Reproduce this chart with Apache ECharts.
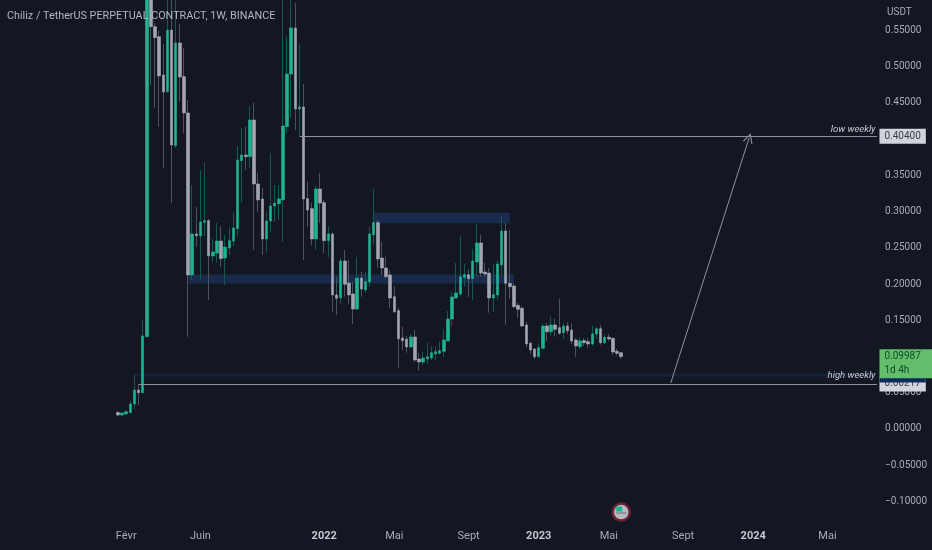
<!DOCTYPE html>
<html><head><meta charset="utf-8">
<style>html,body{margin:0;padding:0;background:#131722}#c{width:932px;height:550px}</style>
<script src="https://cdn.jsdelivr.net/npm/echarts@6/dist/echarts.min.js"></script>
</head><body><div id="c"></div>
<script>
const chartTitle='Chiliz / TetherUS PERPETUAL CONTRACT, 1W, BINANCE';
const firstWeek=Date.UTC(2020,6,6), weekCount=213, firstCandle=28;
const opens=[.0228,.0193,.0207,.0225,.0345,.0538,.0501,.1274,.72,.5553,.5415,.4886,.4656,.5507,.3910,.5328,.4863,.4362,.2126,.2692,.2664,.2853,.2875,.2388,.2429,.2595,.2360,.2498,.2595,.2765,.3703,.3782,.3759,.4265,.3382,.3175,.2623,.2871,.3078,.3110,.3161,.4173,.4900,.5535,.4417,.4445,.3179,.3041,.2623,.3313,.3124,.2599,.2692,.1850,.1812,.2319,.2015,.1863,.1656,.2084,.1919,.2029,.2678,.2848,.2360,.2222,.2126,.1826,.1633,.1256,.1242,.1132,.1270,.0966,.0925,.0966,.0980,.1035,.1045,.1072,.1215,.1518,.1808,.1863,.2094,.2130,.2075,.2305,.2567,.2167,.2153,.1808,.1850,.2264,.2733,.2011,.1974,.1707,.1666,.1436,.1183,.1104,.0998,.1114,.1422,.1343,.1436,.1398,.1329,.1422,.1366,.1228,.1136,.1219,.1205,.1173,.1311,.1384,.1191,.1266,.1252,.1072,.1053];
const closes=[.0193,.0221,.0239,.0345,.0538,.0501,.1284,.72,.5553,.5401,.4873,.4652,.5507,.3920,.5328,.4859,.4362,.2126,.2692,.2668,.2857,.2875,.2388,.2443,.2595,.2351,.2512,.2599,.2774,.3713,.3782,.3759,.4265,.3382,.3161,.2623,.2871,.3078,.3119,.3175,.4182,.4900,.5535,.4417,.4445,.3175,.3023,.2623,.3313,.3119,.2599,.2692,.1850,.1804,.2319,.1997,.1850,.1656,.2084,.1932,.2033,.2692,.2848,.2347,.2222,.2102,.1808,.1619,.1246,.1219,.1132,.1270,.0952,.0925,.0980,.0998,.1053,.1067,.1081,.1228,.1518,.1822,.1877,.2102,.2130,.2075,.2319,.2567,.2153,.2139,.1808,.1854,.2277,.2733,.2011,.1964,.1688,.1652,.1422,.1173,.1090,.0998,.1122,.1422,.1343,.1436,.1376,.1321,.1422,.1357,.1215,.1146,.1215,.1191,.1173,.1311,.1384,.1191,.1266,.1242,.1063,.1045,.09987];
const lows=[.0173,.0179,.0200,.0221,.0276,.0331,.0497,.1270,.4748,.4431,.4173,.3603,.4638,.3119,.3879,.4514,.4086,.1274,.2057,.2516,.2057,.2664,.1781,.2305,.2295,.2240,.1988,.2402,.2526,.2654,.3124,.3575,.3603,.2471,.2999,.2402,.2433,.2723,.2861,.2885,.2585,.4086,.4297,.4127,.4035,.2333,.2792,.2540,.2471,.2843,.2429,.2374,.1619,.1574,.1725,.1826,.1725,.1449,.1643,.1826,.1877,.1960,.2540,.2222,.2126,.2084,.1670,.1601,.0846,.1090,.1053,.1118,.0929,.0805,.0883,.0897,.0952,.0943,.1021,.0994,.1412,.1412,.1794,.1826,.1964,.1818,.1781,.2102,.2102,.2098,.1605,.1619,.1790,.2126,.1440,.1794,.1670,.1532,.1408,.1128,.1035,.0966,.0990,.1100,.1215,.1288,.1274,.1297,.1242,.1311,.1173,.0998,.1104,.1146,.1114,.1150,.1252,.1164,.1173,.1219,.1021,.1021,.0970];
const highs=[.0248,.0235,.0262,.0386,.0745,.0621,.1505,.89,.78,.5600,.5494,.5314,.62,.62,.62,.5590,.5259,.4541,.3368,.3064,.3575,.3676,.2899,.2623,.2843,.2802,.2678,.2788,.2995,.3906,.4155,.4169,.4458,.4504,.3538,.3327,.2981,.3810,.3368,.3368,.60,.5425,.60,.5880,.5314,.4762,.3413,.3119,.3354,.3534,.3161,.2802,.2710,.2098,.2360,.2471,.2333,.2033,.2374,.2171,.2171,.2792,.3313,.2885,.2585,.2378,.2195,.1974,.1670,.1408,.1284,.1311,.1366,.1049,.1067,.1191,.1146,.1136,.1205,.1380,.1629,.1895,.2291,.2664,.2277,.2208,.2485,.2830,.2678,.2291,.2222,.2277,.2333,.2940,.2843,.2747,.2015,.1743,.1698,.1481,.1205,.1118,.1183,.1449,.1463,.1550,.1518,.1794,.1463,.1473,.1459,.1252,.1266,.1256,.1256,.1426,.1412,.1436,.1311,.1311,.1260,.1108,.1060];
const yTicks=[.55,.5,.45,.4,.35,.3,.25,.2,.15,.1,.05,0,-.05,-.1];
const xTickDates=['2021-02-01','2021-06-07','2022-01-03','2022-05-02','2022-09-05','2023-01-02','2023-05-01','2023-09-04','2024-01-01','2024-05-06'];
const xTickLabels=['Févr','Juin','2022','Mai','Sept','2023','Mai','Sept','2024','Mai'];
const zones=[
  {from:'2022-03-28',to:'2022-11-14',top:.2985,bottom:.2839,color:'#1a2a4c'},
  {from:'2021-05-17',to:'2022-11-21',top:.2133,bottom:.2008,color:'#1a2a4c'},
  {from:'2021-02-15',to:'2024-07-22',top:.0769,bottom:.0722,color:'#131f3c'}
];
const lowWeekly=.404, highWeekly=.06217, zoneTag=.07455, lastClose=.09987;
const lowStart='2021-11-22', highStart='2021-02-22';
const arrowFrom={date:'2023-08-14',value:.0635}, arrowTo={date:'2023-12-25',value:.4017};

const categories=[];
for(let i=0;i<weekCount;i++)categories.push(new Date(firstWeek+i*7*864e5).toISOString().slice(0,10));
const lastCat=categories[weekCount-1];
const pad=a=>categories.map((_,i)=>(i>=firstCandle&&i<firstCandle+a.length)?a[i-firstCandle]:'-');
const wickData=pad(opens.map((o,i)=>[o,closes[i],lows[i],highs[i]]));
const bodyData=pad(opens.map((o,i)=>[o,closes[i],Math.min(o,closes[i]),Math.max(o,closes[i])]));
const FONT='Roboto, "Open Sans", sans-serif';
const TXT='#a8abb6';
const fmtY=v=>(v<0?'\u2212':'')+Math.abs(v).toFixed(5);

function tag(value,text,bg,fg,extra){
  return {coord:[lastCat,value],symbol:'rect',symbolSize:1,itemStyle:{color:'transparent'},
    label:Object.assign({show:true,position:'right',distance:2,formatter:text,backgroundColor:bg,color:fg,
      fontFamily:FONT,fontSize:10,padding:[1,5,1,5],lineHeight:13},extra||{})};
}
function note(value,text,offY){
  return {coord:[lastCat,value],symbol:'rect',symbolSize:1,itemStyle:{color:'transparent'},
    label:{show:true,position:'left',distance:0,offset:[-1,offY],formatter:text,color:'#c9cbd2',
      fontFamily:FONT,fontSize:9.5,fontStyle:'italic'}};
}
const arrowPath='path://M0 10L5 0L10 10L9 10.6L5 2.6L1 10.6Z';
const option={
  backgroundColor:'#131722',animation:false,
  title:[
    {text:chartTitle,left:2,top:3,textStyle:{color:'#b2b5be',fontFamily:FONT,fontSize:10.8,fontWeight:'normal',lineHeight:16}},
    {text:'USDT',left:882,top:0,textStyle:{color:TXT,fontFamily:FONT,fontSize:10,fontWeight:'normal',lineHeight:14}}
  ],
  grid:{left:.44,top:0,width:878.6,height:520,outerBoundsMode:'none'},
  xAxis:{type:'category',data:categories,boundaryGap:true,
    axisLine:{show:false},axisTick:{show:false},splitLine:{show:false},
    axisLabel:{color:TXT,fontFamily:FONT,fontSize:11,margin:11,hideOverlap:false,showMinLabel:true,showMaxLabel:true,
      interval:(i,v)=>xTickDates.includes(v),
      formatter:v=>{const k=xTickDates.indexOf(v);if(k<0)return'';const t=xTickLabels[k];return /^\d/.test(t)?'{y|'+t+'}':t;},
      rich:{y:{color:'#c5c7cf',fontFamily:FONT,fontSize:11,fontWeight:'bold'}}}},
  yAxis:{type:'value',position:'right',min:-.1256,max:.5921,scale:true,
    axisLine:{show:false},axisTick:{show:false},splitLine:{show:false},
    axisLabel:{color:TXT,fontFamily:FONT,fontSize:10,margin:6,align:'left',customValues:yTicks,formatter:fmtY}},
  series:[
    {type:'line',name:'zones',data:[],z:1,silent:true,showSymbol:false,clip:false,
      markArea:{silent:true,data:zones.map(z=>[{xAxis:z.from,yAxis:z.top,itemStyle:{color:z.color}},{xAxis:z.to,yAxis:z.bottom}])}},
    {type:'candlestick',name:'wicks',data:wickData,barWidth:1,z:2,silent:true,
      itemStyle:{color:'#14594f',color0:'#4e525c',borderColor:'#14594f',borderColor0:'#4e525c',borderWidth:1}},
    {type:'candlestick',name:'bodies',data:bodyData,barWidth:3,z:3,silent:true,
      itemStyle:{color:'#1fb394',color0:'#a3a6b1',borderColor:'#1fb394',borderColor0:'#a3a6b1',borderWidth:.6}},
    {type:'line',name:'drawings',data:[],z:5,silent:true,showSymbol:false,clip:false,
      markLine:{silent:true,symbol:'none',animation:false,label:{show:false},lineStyle:{type:'solid',color:'#8f929b',width:1.2},
        data:[
          [{coord:[lowStart,lowWeekly]},{coord:[lastCat,lowWeekly]}],
          [{coord:[highStart,highWeekly]},{coord:[lastCat,highWeekly]}],
          [{coord:[arrowFrom.date,arrowFrom.value],symbol:'none',lineStyle:{width:1,type:'solid',color:'#8f929b'}},
           {coord:[arrowTo.date,arrowTo.value],symbol:arrowPath,symbolSize:10}]
        ]},
      markPoint:{silent:true,animation:false,data:[
        note(lowWeekly,'low weekly',-7),
        note(highWeekly,'high weekly',-8),
        tag(highWeekly,'0.06217','#d1d4dc','#3b3e47'),
        tag(zoneTag,'0.07455','#0e2a5c','#d1d4dc'),
        tag(lastClose,'0.09987\n1d 4h','#63bd6c','#0d4d25',{offset:[0,7],padding:[0,13,1,5],lineHeight:14}),
        tag(lowWeekly,'0.40400','#d1d4dc','#3b3e47'),
        {coord:['2023-05-22',-.1146],symbol:'circle',symbolSize:17,itemStyle:{color:'#b7bac1',borderColor:'#6e2432',borderWidth:2.5},label:{show:false}},
        {coord:['2023-05-22',-.1146],symbol:'rect',symbolSize:[6,5],symbolOffset:[-2,-3],itemStyle:{color:'#1fb394'},label:{show:false}},
        {coord:['2023-05-22',-.1146],symbol:'rect',symbolSize:[10,1],symbolOffset:[0,1],itemStyle:{color:'#6a6d75'},label:{show:false}}
      ]}}
  ]
};
echarts.init(document.getElementById('c')).setOption(option);
</script></body></html>
